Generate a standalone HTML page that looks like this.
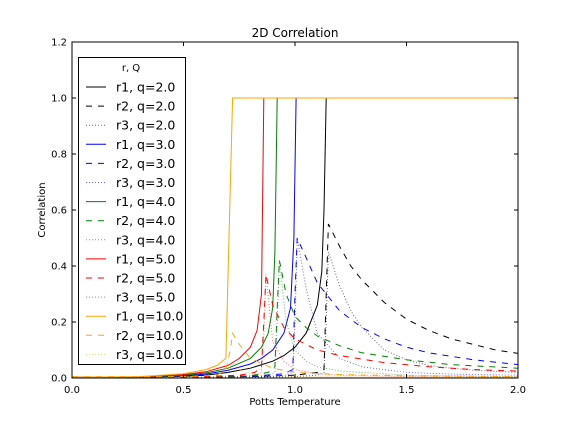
<!DOCTYPE html>
<html><head><meta charset="utf-8"><style>
body{margin:0;background:#fff}
svg{display:block;font-family:"DejaVu Sans","Liberation Sans",sans-serif}
</style></head><body>
<svg id="c" width="576" height="432" xmlns="http://www.w3.org/2000/svg"></svg>
<script>
const xTicks=[0.0,0.5,1.0,1.5,2.0];
const yTicks=[0.0,0.2,0.4,0.6,0.8,1.0,1.2];
const seriesNames=["r1, q=2.0","r2, q=2.0","r3, q=2.0","r1, q=3.0","r2, q=3.0","r3, q=3.0","r1, q=4.0","r2, q=4.0","r3, q=4.0","r1, q=5.0","r2, q=5.0","r3, q=5.0","r1, q=10.0","r2, q=10.0","r3, q=10.0"];
const seriesColors=["black","black","black","blue","blue","blue","green","green","green","red","red","red","orange","orange","orange"];
const seriesStyles=["solid","dash","dot","solid","dash","dot","solid","dash","dot","solid","dash","dot","solid","dash","dot"];
// q=2
const t_r1q2=[0,0.3,0.5,0.6,0.7,0.8,0.9,0.95,1.0,1.05,1.1,1.12,1.13,1.14,2.0];
const v_r1q2=[0.002,0.003,0.006,0.01,0.02,0.035,0.06,0.08,0.11,0.16,0.26,0.38,0.6,1.0,1.0];
const t_r2q2=[0,0.5,0.8,1.0,1.1,1.13,1.14,1.15,1.2,1.25,1.3,1.4,1.5,1.6,1.7,1.8,1.9,2.0];
const v_r2q2=[0.003,0.003,0.005,0.01,0.02,0.03,0.3,0.55,0.47,0.4,0.35,0.27,0.21,0.17,0.14,0.12,0.1,0.088];
const t_r3q2=[0,0.5,0.8,1.0,1.1,1.13,1.14,1.15,1.2,1.25,1.3,1.4,1.5,1.6,1.7,1.8,2.0];
const v_r3q2=[0.002,0.002,0.003,0.005,0.01,0.02,0.2,0.45,0.33,0.24,0.18,0.1,0.065,0.045,0.035,0.028,0.02];
// q=3
const t_r1q3=[0,0.3,0.5,0.6,0.7,0.8,0.85,0.9,0.95,0.98,0.995,1.005,2.0];
const v_r1q3=[0.002,0.003,0.008,0.014,0.028,0.05,0.07,0.1,0.16,0.25,0.5,1.0,1.0];
const t_r2q3=[0,0.5,0.8,0.95,0.99,1.0,1.01,1.05,1.1,1.2,1.3,1.4,1.5,1.6,1.8,2.0];
const v_r2q3=[0.003,0.003,0.006,0.015,0.03,0.3,0.5,0.43,0.34,0.24,0.18,0.14,0.11,0.09,0.065,0.048];
const t_r3q3=[0,0.5,0.8,0.95,0.99,1.0,1.01,1.05,1.1,1.2,1.3,1.5,1.7,2.0];
const v_r3q3=[0.002,0.002,0.003,0.008,0.02,0.2,0.5,0.32,0.16,0.07,0.04,0.02,0.014,0.01];
// q=4
const t_r1q4=[0,0.3,0.5,0.6,0.7,0.8,0.85,0.88,0.9,0.91,0.92,2.0];
const v_r1q4=[0.002,0.003,0.01,0.018,0.035,0.07,0.11,0.16,0.25,0.45,1.0,1.0];
const t_r2q4=[0,0.5,0.8,0.88,0.91,0.92,0.93,0.96,1.0,1.05,1.1,1.2,1.3,1.5,1.7,2.0];
const v_r2q4=[0.003,0.003,0.008,0.02,0.04,0.25,0.42,0.3,0.22,0.18,0.15,0.115,0.09,0.065,0.048,0.035];
const t_r3q4=[0,0.5,0.8,0.88,0.91,0.92,0.93,0.96,1.0,1.05,1.1,1.2,1.5,2.0];
const v_r3q4=[0.002,0.002,0.004,0.01,0.02,0.2,0.42,0.2,0.1,0.06,0.04,0.025,0.01,0.005];
// q=5
const t_r1q5=[0,0.3,0.5,0.6,0.7,0.75,0.8,0.83,0.85,0.86,2.0];
const v_r1q5=[0.002,0.004,0.012,0.022,0.045,0.07,0.11,0.17,0.3,1.0,1.0];
const t_r2q5=[0,0.5,0.75,0.82,0.85,0.86,0.87,0.9,0.95,1.0,1.1,1.2,1.4,1.6,1.8,2.0];
const v_r2q5=[0.003,0.003,0.01,0.02,0.04,0.2,0.37,0.26,0.18,0.14,0.1,0.08,0.055,0.04,0.03,0.025];
const t_r3q5=[0,0.5,0.75,0.82,0.85,0.86,0.87,0.9,0.95,1.0,1.1,1.2,1.5,2.0];
const v_r3q5=[0.002,0.002,0.005,0.01,0.02,0.15,0.37,0.13,0.06,0.03,0.015,0.01,0.005,0.003];
// q=10
const t_r1q10=[0,0.3,0.5,0.6,0.65,0.69,0.72,2.0];
const v_r1q10=[0.003,0.005,0.015,0.03,0.045,0.07,1.0,1.0];
const t_r2q10=[0,0.5,0.65,0.69,0.71,0.72,0.75,0.8,0.9,1.0,1.2,1.5,2.0];
const v_r2q10=[0.005,0.005,0.01,0.03,0.1,0.16,0.12,0.07,0.035,0.02,0.012,0.008,0.005];
const t_r3q10=[0,0.5,0.65,0.69,0.71,0.72,0.75,0.8,0.9,1.0,1.5,2.0];
const v_r3q10=[0.003,0.003,0.005,0.01,0.03,0.05,0.03,0.015,0.008,0.005,0.003,0.002];
const seriesT=[t_r1q2,t_r2q2,t_r3q2,t_r1q3,t_r2q3,t_r3q3,t_r1q4,t_r2q4,t_r3q4,t_r1q5,t_r2q5,t_r3q5,t_r1q10,t_r2q10,t_r3q10];
const seriesV=[v_r1q2,v_r2q2,v_r3q2,v_r1q3,v_r2q3,v_r3q3,v_r1q4,v_r2q4,v_r3q4,v_r1q5,v_r2q5,v_r3q5,v_r1q10,v_r2q10,v_r3q10];

const NS="http://www.w3.org/2000/svg";
const svg=document.getElementById('c');
const L=72,R=518,T=42,B=378;
const xs=v=>L+(v-0)/(2-0)*(R-L);
const ys=v=>B-(v-0)/(1.2-0)*(B-T);
function mk(tag,attrs,parent){const e=document.createElementNS(NS,tag);for(const k in attrs)e.setAttribute(k,attrs[k]);(parent||svg).appendChild(e);return e;}
function dash(s){return s==="dash"?"6,6":(s==="dot"?"1,2":"none");}
function op(s){return s==="dot"?0.6:1;}

const clip=mk('clipPath',{id:'pc'});mk('rect',{x:L,y:T,width:R-L,height:B-T},clip);
const g=mk('g',{'clip-path':'url(#pc)'});


for(let i=0;i<seriesT.length;i++){
  const pts=seriesT[i].map((t,j)=>xs(t).toFixed(1)+","+ys(seriesV[i][j]).toFixed(1)).join(" ");
  const p=mk('polyline',{points:pts,fill:'none',stroke:seriesColors[i],'stroke-width':1,'stroke-opacity':op(seriesStyles[i]),'stroke-dasharray':dash(seriesStyles[i])},g);
  
  
}
const frame=mk('rect',{x:L,y:T,width:R-L,height:B-T,fill:'none',stroke:'black','stroke-width':1});


for(const v of xTicks){
  const x=xs(v);
  mk('line',{x1:x,x2:x,y1:B,y2:B-4,stroke:'black'});mk('line',{x1:x,x2:x,y1:T,y2:T+4,stroke:'black'});
  const t=mk('text',{x:x,y:B+15,'text-anchor':'middle','font-size':10});t.textContent=v.toFixed(1);
  
  
}
for(const v of yTicks){
  const y=ys(v);
  mk('line',{x1:L,x2:L+4,y1:y,y2:y,stroke:'black'});mk('line',{x1:R,x2:R-4,y1:y,y2:y,stroke:'black'});
  const t=mk('text',{x:L-5,y:y+3.5,'text-anchor':'end','font-size':10});t.textContent=v.toFixed(1);
  
  
}
const title=mk('text',{x:(L+R)/2,y:37,'text-anchor':'middle','font-size':12});title.textContent="2D Correlation";


const xl=mk('text',{x:(L+R)/2,y:405,'text-anchor':'middle','font-size':10});xl.textContent="Potts Temperature";


const yl=mk('text',{x:45,y:(T+B)/2,'text-anchor':'middle','font-size':10,transform:'rotate(-90 45 '+((T+B)/2)+')'});yl.textContent="Correlation";


// legend
const lg=mk('g',{});


mk('rect',{x:78.5,y:57.5,width:107,height:307,fill:'white',stroke:'black'},lg);
const lt=mk('text',{x:131,y:71,'text-anchor':'middle','font-size':10},lg);lt.textContent="r, Q";
for(let i=0;i<seriesNames.length;i++){
  const y=87+i*19.1;
  const e=mk('g',{},lg);
  
  
  mk('line',{x1:86,x2:106,y1:y,y2:y,stroke:seriesColors[i],'stroke-opacity':op(seriesStyles[i]),'stroke-dasharray':dash(seriesStyles[i])},e);
  const t=mk('text',{x:116,y:y+4.5,'font-size':12.5},e);t.textContent=seriesNames[i];
}
</script>
</body></html>
